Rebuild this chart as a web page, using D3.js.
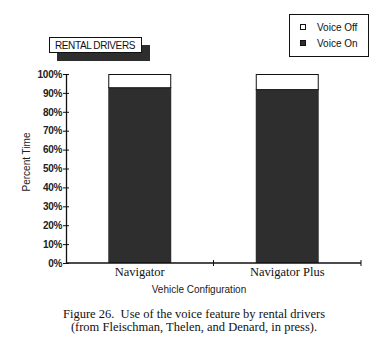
<!DOCTYPE html>
<html>
<head>
<meta charset="utf-8">
<script src="https://cdn.jsdelivr.net/npm/d3@7"></script>
<style>
body { margin: 0; background: #fff; }
svg { display: block; }
.sans { font-family: "Liberation Sans", Arial, sans-serif; }
.serif { font-family: "Liberation Serif", "Times New Roman", serif; }
</style>
</head>
<body>
<script>
// data
var categories = ["Navigator", "Navigator Plus"];
var voiceOn = [93, 92];
var voiceOff = [7, 8];
var seriesNames = ["Voice Off", "Voice On"];
var yTicks = [0, 10, 20, 30, 40, 50, 60, 70, 80, 90, 100];

var width = 386, height = 364;
var dark = "#2e2e2e";

var svg = d3.select("body").append("svg")
    .attr("width", width)
    .attr("height", height);

var x = d3.scaleBand().domain(categories).range([66, 361])
    .paddingInner(0.573).paddingOuter(0.2865);
var y = d3.scaleLinear().domain([0, 100]).range([263, 74]);

var rows = categories.map(function(c, i) {
    return {cat: c, on: voiceOn[i], off: voiceOff[i]};
});

// bars
var g = svg.append("g");
g.selectAll("rect.on").data(rows).enter().append("rect")
    .attr("class", "on")
    .attr("x", d => x(d.cat))
    .attr("width", x.bandwidth())
    .attr("y", d => y(d.on))
    .attr("height", d => y(0) - y(d.on))
    .attr("fill", dark);
g.selectAll("rect.off").data(rows).enter().append("rect")
    .attr("class", "off")
    .attr("x", d => x(d.cat) + 0.5)
    .attr("width", x.bandwidth() - 1)
    .attr("y", d => y(d.on + d.off) + 0.5)
    .attr("height", d => y(d.on) - y(d.on + d.off))
    .attr("fill", "#fff")
    .attr("stroke", "#111")
    .attr("stroke-width", 1);

// y axis
var yAxis = d3.axisLeft(y).tickValues(yTicks).tickFormat(d => d + "%")
    .tickSize(3).tickPadding(1).tickSizeOuter(0);
var ya = svg.append("g").attr("transform", "translate(66,0)").call(yAxis);
ya.select(".domain").attr("stroke", "#111").attr("stroke-width", 1.3);
ya.selectAll(".tick line").attr("x1", -3).attr("x2", 3).attr("stroke", "#111");
ya.selectAll(".tick text").attr("class", "sans").attr("font-size", 10)
    .attr("font-weight", "bold").attr("letter-spacing", -0.3)
    .attr("fill", "#222").attr("font-family", null);

// x axis with ticks at band boundaries
var xa = svg.append("g");
xa.append("line").attr("x1", x.range()[0]).attr("x2", x.range()[1])
    .attr("y1", y(0)).attr("y2", y(0)).attr("stroke", "#111").attr("stroke-width", 1.3);
xa.selectAll("line.t").data([1, 2]).enter().append("line")
    .attr("class", "t")
    .attr("x1", i => x.range()[0] + i * (x.range()[1] - x.range()[0]) / 2)
    .attr("x2", i => x.range()[0] + i * (x.range()[1] - x.range()[0]) / 2)
    .attr("y1", y(0) - 3).attr("y2", y(0) + 3).attr("stroke", "#111");
xa.selectAll("text").data(categories).enter().append("text")
    .attr("class", "serif")
    .attr("x", d => x(d) + x.bandwidth() / 2)
    .attr("y", 276)
    .attr("text-anchor", "middle")
    .attr("font-size", 12.5)
    .attr("fill", "#111")
    .text(d => d);

svg.append("text").attr("class", "sans")
    .attr("x", 199).attr("y", 293)
    .attr("text-anchor", "middle").attr("font-size", 10).attr("fill", "#222")
    .text("Vehicle Configuration");

svg.append("text").attr("class", "sans")
    .attr("transform", "translate(30,162) rotate(-90)")
    .attr("text-anchor", "middle").attr("font-size", 10).attr("fill", "#222")
    .text("Percent  Time");

// title box with shadow
svg.append("rect").attr("x", 57).attr("y", 45).attr("width", 93).attr("height", 16).attr("fill", dark);
svg.append("rect").attr("x", 49.5).attr("y", 37.5).attr("width", 92).attr("height", 15)
    .attr("fill", "#fff").attr("stroke", "#111");
svg.append("text").attr("class", "sans")
    .attr("x", 95).attr("y", 49)
    .attr("text-anchor", "middle").attr("font-size", 10).attr("letter-spacing", -0.4)
    .attr("fill", "#111")
    .text("RENTAL DRIVERS");

// legend
svg.append("rect").attr("x", 289.5).attr("y", 14.5).attr("width", 79).attr("height", 42)
    .attr("fill", "#fff").attr("stroke", "#111");
var lg = svg.selectAll("g.leg").data(seriesNames).enter().append("g")
    .attr("class", "leg")
    .attr("transform", (d, i) => "translate(300," + (27 + i * 16) + ")");
lg.append("rect").attr("x", 0.5).attr("y", -2.5).attr("width", 5).attr("height", 5)
    .attr("fill", (d, i) => i === 0 ? "#fff" : dark)
    .attr("stroke", "#111");
lg.append("text").attr("class", "sans")
    .attr("x", 17).attr("y", 3.5)
    .attr("font-size", 10).attr("fill", "#111")
    .text(d => d);

// caption
var caption = ["Figure 26.  Use of the voice feature by rental drivers",
    "(from Fleischman, Thelen, and Denard, in press)."];
svg.selectAll("text.cap").data(caption).enter().append("text")
    .attr("class", "cap serif")
    .attr("x", 194).attr("y", (d, i) => 318 + i * 12.5)
    .attr("text-anchor", "middle")
    .attr("font-size", 12.5)
    .attr("fill", "#111")
    .style("white-space", "pre")
    .text(d => d);
</script>
</body>
</html>
